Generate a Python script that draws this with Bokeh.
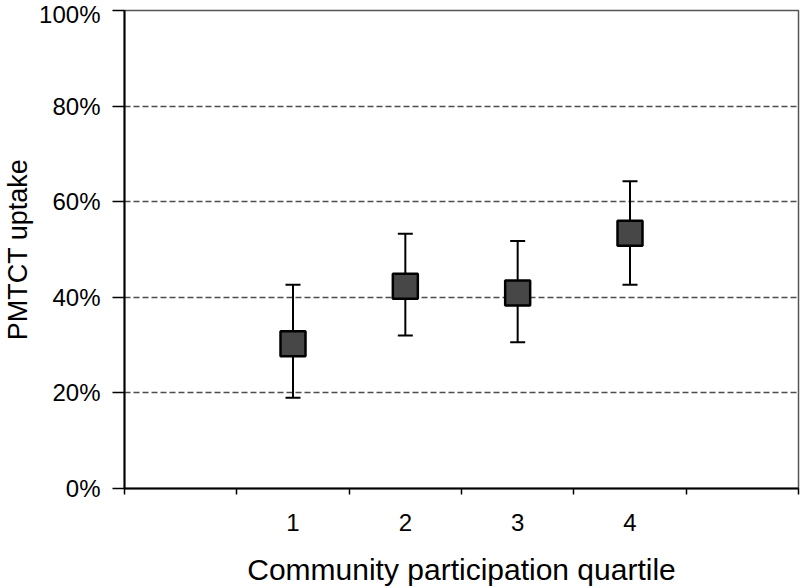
from bokeh.plotting import figure
from bokeh.models import ColumnDataSource, FixedTicker, Whisker, TeeHead, Range1d
from bokeh.embed import file_html
from bokeh.resources import INLINE

# ---- data ----
quartiles = ["1", "2", "3", "4"]
uptake = [30.3, 42.3, 40.9, 53.4]
lower = [19.0, 32.0, 30.6, 42.6]
upper = [42.6, 53.3, 51.8, 64.3]
y_ticks = [0, 20, 40, 60, 80, 100]
y_tick_labels = ["0%", "20%", "40%", "60%", "80%", "100%"]

# category i sits at the centre of slot i+1 (Excel style: one blank slot each side)
xpos = [i + 1.5 for i in range(len(quartiles))]
boundaries = list(range(len(quartiles) + 3))

src = ColumnDataSource(dict(x=xpos, y=uptake, lower=lower, upper=upper, q=quartiles))

FONT = "Liberation Sans"

p = figure(width=800, height=588, output_backend="svg", toolbar_location=None,
           x_range=Range1d(0, len(quartiles) + 2), y_range=Range1d(0, 100),
           min_border_left=124, min_border_right=2, min_border_top=10, min_border_bottom=98)
p.background_fill_color = "white"
p.border_fill_color = "white"
p.outline_line_color = "#555555"
p.outline_line_width = 1.5

# x axis: labels at centres, tick marks at slot boundaries
p.xaxis.ticker = FixedTicker(ticks=xpos, minor_ticks=boundaries)
p.xaxis.major_label_overrides = {x: q for x, q in zip(xpos, quartiles)}
p.xaxis.major_tick_out = 0
p.xaxis.major_tick_in = 0
p.xaxis.minor_tick_out = 6
p.xaxis.minor_tick_in = 0
p.xaxis.minor_tick_line_color = "black"
p.xaxis.minor_tick_line_width = 1.5
p.xaxis.major_label_standoff = 19
p.xaxis.axis_line_color = "black"
p.xaxis.axis_line_width = 2
p.xaxis.major_label_text_font = FONT
p.xaxis.major_label_text_font_size = "24px"
p.xaxis.major_label_text_color = "black"
p.xaxis.axis_label = "Community participation quartile"
p.xaxis.axis_label_text_font = FONT
p.xaxis.axis_label_text_font_size = "30px"
p.xaxis.axis_label_text_font_style = "normal"
p.xaxis.axis_label_text_color = "black"
p.xaxis.axis_label_standoff = 19

# y axis
p.yaxis.ticker = FixedTicker(ticks=y_ticks, minor_ticks=[])
p.yaxis.major_label_overrides = {t: l for t, l in zip(y_ticks, y_tick_labels)}
p.yaxis.major_tick_out = 12
p.yaxis.major_tick_in = 0
p.yaxis.major_tick_line_color = "black"
p.yaxis.major_tick_line_width = 1.5
p.yaxis.major_label_standoff = 12
p.yaxis.axis_line_color = "black"
p.yaxis.axis_line_width = 2
p.yaxis.major_label_text_font = FONT
p.yaxis.major_label_text_font_size = "24px"
p.yaxis.major_label_text_color = "black"
p.yaxis.axis_label = "PMTCT uptake"
p.yaxis.axis_label_text_font = FONT
p.yaxis.axis_label_text_font_size = "27px"
p.yaxis.axis_label_text_font_style = "normal"
p.yaxis.axis_label_text_color = "black"
p.yaxis.axis_label_standoff = 3

# grid
p.xgrid.visible = False
p.ygrid.ticker = FixedTicker(ticks=y_ticks[1:-1])
p.ygrid.grid_line_color = "#4d4d4d"
p.ygrid.grid_line_width = 1.4
p.ygrid.grid_line_dash = "6 3"

# error bars
wh = Whisker(base="x", upper="upper", lower="lower", source=src,
             line_color="black", line_width=2,
             upper_head=TeeHead(size=15, line_color="black", line_width=2),
             lower_head=TeeHead(size=15, line_color="black", line_width=2))
p.add_layout(wh)

# markers
p.scatter("x", "y", source=src, marker="square", size=25,
          fill_color="#474747", line_color="black", line_width=2.5)

open("out.html", "w").write(file_html(p, INLINE))
